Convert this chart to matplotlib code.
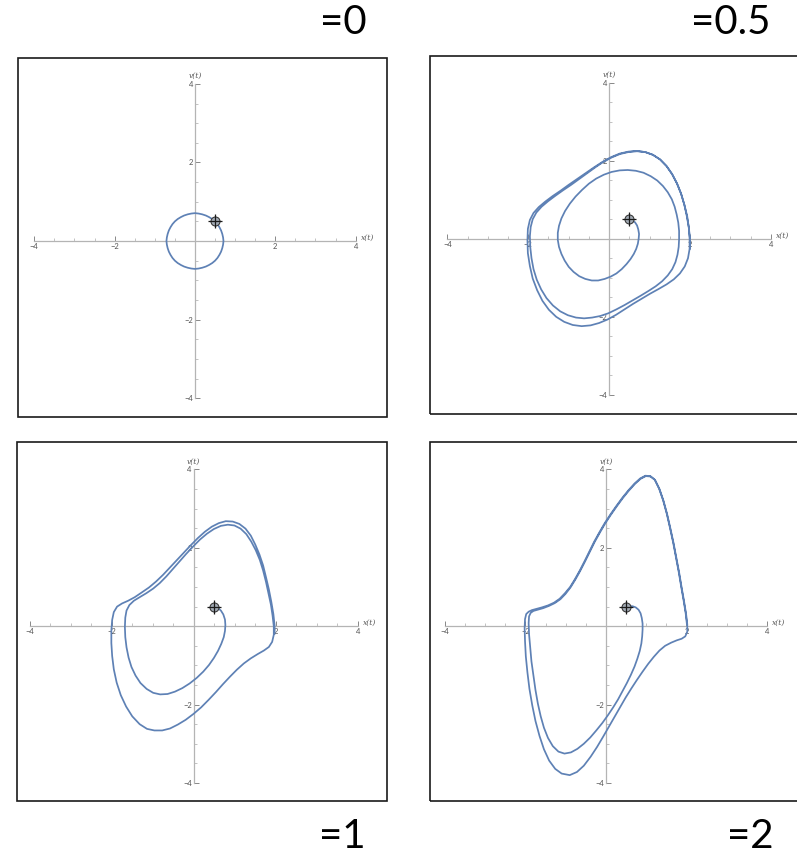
"""Van der Pol phase portraits v(t) vs x(t) for four damping values."""
import matplotlib
matplotlib.use("Agg")
import matplotlib.pyplot as plt
import numpy as np
from matplotlib.patches import Rectangle

plt.rcParams.update({
    "font.family": ["Lato", "DejaVu Sans"],
    "axes.unicode_minus": True,
})

# ── data ──────────────────────────────────────────────────────────────────────
MU_LABELS = ["=0", "=0.5", "=1", "=2"]
START = (0.5, 0.5)

MAJOR_TICKS = [-4, -2, 2, 4]
MINOR_TICKS = [-3.5, -3, -2.5, -1.5, -1, -0.5, 0.5, 1, 1.5, 2.5, 3, 3.5]
TICK_LABELS = ["\u22124", "\u22122", "2", "4"]

TRAJ_MU0 = [
    (0.50, 0.50), (0.56, 0.43), (0.61, 0.35), (0.65, 0.27), (0.68, 0.18),
    (0.70, 0.09), (0.71, 0.00), (0.70, -0.09), (0.68, -0.18), (0.65, -0.27),
    (0.61, -0.35), (0.56, -0.43), (0.50, -0.50), (0.43, -0.56), (0.35, -0.61),
    (0.27, -0.65), (0.18, -0.68), (0.09, -0.70), (0.00, -0.71), (-0.09, -0.70),
    (-0.18, -0.68), (-0.27, -0.65), (-0.35, -0.61), (-0.43, -0.56), (-0.50, -0.50),
    (-0.56, -0.43), (-0.61, -0.35), (-0.65, -0.27), (-0.68, -0.18), (-0.70, -0.09),
    (-0.71, 0.00), (-0.70, 0.09), (-0.68, 0.18), (-0.65, 0.27), (-0.61, 0.35),
    (-0.56, 0.43), (-0.50, 0.50), (-0.43, 0.56), (-0.35, 0.61), (-0.27, 0.65),
    (-0.18, 0.68), (-0.09, 0.70), (0.00, 0.71), (0.09, 0.70), (0.18, 0.68),
    (0.27, 0.65), (0.35, 0.61), (0.43, 0.56), (0.50, 0.50),
]

TRAJ_MU05 = [
    (0.50, 0.50), (0.57, 0.47), (0.64, 0.42), (0.69, 0.34), (0.72, 0.24),
    (0.74, 0.12), (0.73, 0.00), (0.71, -0.13), (0.67, -0.26), (0.61, -0.39),
    (0.53, -0.52), (0.43, -0.65), (0.31, -0.78), (0.18, -0.89), (0.04, -0.97),
    (-0.11, -1.03), (-0.27, -1.07), (-0.43, -1.07), (-0.59, -1.03), (-0.74, -0.96),
    (-0.88, -0.85), (-1.00, -0.72), (-1.10, -0.56), (-1.18, -0.39), (-1.24, -0.21),
    (-1.27, -0.03), (-1.27, 0.15), (-1.24, 0.33), (-1.18, 0.52), (-1.09, 0.71),
    (-0.97, 0.90), (-0.83, 1.08), (-0.67, 1.25), (-0.50, 1.41), (-0.32, 1.54),
    (-0.13, 1.64), (0.06, 1.71), (0.26, 1.75), (0.46, 1.76), (0.66, 1.74),
    (0.85, 1.69), (1.03, 1.60), (1.19, 1.49), (1.33, 1.35), (1.45, 1.19),
    (1.55, 1.01), (1.62, 0.82), (1.67, 0.62), (1.71, 0.41), (1.73, 0.20),
    (1.73, -0.01), (1.72, -0.21), (1.69, -0.41), (1.64, -0.60), (1.56, -0.78),
    (1.45, -0.94), (1.31, -1.09), (1.15, -1.22), (0.97, -1.34), (0.78, -1.46),
    (0.58, -1.58), (0.38, -1.70), (0.18, -1.81), (-0.02, -1.91), (-0.22, -1.98),
    (-0.42, -2.02), (-0.62, -2.04), (-0.82, -2.02), (-1.02, -1.96), (-1.21, -1.86),
    (-1.39, -1.71), (-1.55, -1.52), (-1.68, -1.30), (-1.79, -1.05), (-1.87, -0.78),
    (-1.92, -0.50), (-1.95, -0.22), (-1.96, 0.06), (-1.94, 0.30), (-1.89, 0.50),
    (-1.80, 0.67), (-1.67, 0.82), (-1.51, 0.96), (-1.33, 1.10), (-1.14, 1.24),
    (-0.94, 1.38), (-0.74, 1.53), (-0.54, 1.68), (-0.34, 1.83), (-0.14, 1.97),
    (0.06, 2.08), (0.27, 2.17), (0.48, 2.22), (0.69, 2.24), (0.89, 2.22),
    (1.08, 2.15), (1.26, 2.03), (1.42, 1.86), (1.56, 1.65), (1.68, 1.41),
    (1.78, 1.15), (1.86, 0.87), (1.92, 0.58), (1.97, 0.29), (1.99, 0.00),
    (1.99, -0.26), (1.95, -0.50), (1.87, -0.71), (1.75, -0.89), (1.60, -1.04),
    (1.42, -1.17), (1.22, -1.29), (1.01, -1.41), (0.80, -1.54), (0.59, -1.67),
    (0.38, -1.81), (0.17, -1.95), (-0.04, -2.07), (-0.25, -2.16), (-0.46, -2.22),
    (-0.68, -2.24), (-0.90, -2.21), (-1.11, -2.13), (-1.31, -2.00), (-1.49, -1.82),
    (-1.65, -1.59), (-1.78, -1.32), (-1.89, -1.02), (-1.96, -0.70), (-2.01, -0.37),
    (-2.02, -0.04), (-2.01, 0.25), (-1.96, 0.48), (-1.87, 0.66), (-1.74, 0.81),
    (-1.58, 0.95), (-1.40, 1.09), (-1.20, 1.23), (-1.00, 1.38), (-0.79, 1.53),
    (-0.58, 1.68), (-0.37, 1.83), (-0.16, 1.97), (0.05, 2.09), (0.26, 2.18),
    (0.47, 2.23), (0.68, 2.25), (0.89, 2.22), (1.08, 2.15), (1.26, 2.03),
    (1.42, 1.86), (1.56, 1.65), (1.68, 1.41), (1.78, 1.15), (1.86, 0.87),
    (1.93, 0.58), (1.97, 0.29), (2.00, 0.00), (2.00, -0.26),
]

TRAJ_MU1 = [
    (0.50, 0.50), (0.58, 0.47), (0.66, 0.40), (0.72, 0.30), (0.76, 0.17),
    (0.77, 0.03), (0.76, -0.12), (0.73, -0.28), (0.67, -0.45), (0.59, -0.63),
    (0.49, -0.81), (0.37, -0.99), (0.23, -1.16), (0.07, -1.32), (-0.10, -1.46),
    (-0.28, -1.58), (-0.46, -1.67), (-0.64, -1.73), (-0.82, -1.74), (-0.99, -1.70),
    (-1.15, -1.60), (-1.30, -1.45), (-1.42, -1.26), (-1.52, -1.04), (-1.59, -0.80),
    (-1.64, -0.54), (-1.67, -0.28), (-1.68, -0.02), (-1.67, 0.22), (-1.64, 0.40),
    (-1.57, 0.54), (-1.46, 0.65), (-1.32, 0.74), (-1.16, 0.84), (-0.99, 0.96),
    (-0.83, 1.10), (-0.67, 1.27), (-0.51, 1.46), (-0.35, 1.65), (-0.19, 1.84),
    (-0.02, 2.03), (0.15, 2.21), (0.32, 2.36), (0.49, 2.48), (0.66, 2.56),
    (0.83, 2.59), (0.99, 2.57), (1.14, 2.49), (1.28, 2.35), (1.40, 2.16),
    (1.51, 1.94), (1.61, 1.69), (1.69, 1.42), (1.76, 1.13), (1.82, 0.84),
    (1.88, 0.55), (1.92, 0.27), (1.95, 0.00), (1.95, -0.22), (1.91, -0.40),
    (1.83, -0.53), (1.71, -0.62), (1.56, -0.71), (1.39, -0.82), (1.22, -0.95),
    (1.05, -1.11), (0.88, -1.29), (0.71, -1.48), (0.54, -1.68), (0.36, -1.88),
    (0.18, -2.07), (-0.01, -2.24), (-0.20, -2.39), (-0.39, -2.51), (-0.58, -2.61),
    (-0.77, -2.66), (-0.96, -2.66), (-1.14, -2.62), (-1.32, -2.50), (-1.50, -2.30),
    (-1.65, -2.05), (-1.78, -1.76), (-1.88, -1.44), (-1.95, -1.10), (-1.99, -0.76),
    (-2.01, -0.43), (-2.01, -0.12), (-1.99, 0.16), (-1.95, 0.36), (-1.87, 0.50),
    (-1.75, 0.58), (-1.60, 0.65), (-1.44, 0.74), (-1.27, 0.86), (-1.09, 0.99),
    (-0.92, 1.14), (-0.75, 1.31), (-0.58, 1.50), (-0.41, 1.69), (-0.24, 1.88),
    (-0.07, 2.07), (0.10, 2.25), (0.27, 2.41), (0.44, 2.54), (0.61, 2.63),
    (0.78, 2.68), (0.95, 2.67), (1.11, 2.61), (1.26, 2.49), (1.39, 2.31),
    (1.50, 2.08), (1.60, 1.83), (1.69, 1.55), (1.76, 1.25), (1.83, 0.94),
    (1.89, 0.62), (1.94, 0.31), (1.97, 0.02), (1.97, -0.20),
]

TRAJ_MU2 = [
    (0.50, 0.50), (0.58, 0.51), (0.66, 0.51), (0.74, 0.48), (0.81, 0.42),
    (0.86, 0.33), (0.89, 0.21), (0.91, 0.07), (0.91, -0.09), (0.90, -0.26),
    (0.88, -0.44), (0.84, -0.63), (0.78, -0.83), (0.71, -1.03), (0.62, -1.24),
    (0.52, -1.45), (0.41, -1.66), (0.30, -1.87), (0.18, -2.07), (0.05, -2.27),
    (-0.09, -2.47), (-0.24, -2.66), (-0.39, -2.84), (-0.55, -3.00), (-0.71, -3.13),
    (-0.87, -3.22), (-1.03, -3.25), (-1.18, -3.20), (-1.32, -3.06), (-1.44, -2.85),
    (-1.54, -2.59), (-1.62, -2.30), (-1.69, -1.98), (-1.75, -1.63), (-1.80, -1.27),
    (-1.85, -0.90), (-1.88, -0.54), (-1.91, -0.20), (-1.92, 0.08), (-1.91, 0.25),
    (-1.87, 0.34), (-1.80, 0.39), (-1.70, 0.42), (-1.56, 0.46), (-1.41, 0.52),
    (-1.27, 0.59), (-1.13, 0.69), (-1.00, 0.83), (-0.88, 0.99), (-0.76, 1.19),
    (-0.64, 1.41), (-0.52, 1.65), (-0.40, 1.90), (-0.28, 2.15), (-0.15, 2.39),
    (-0.02, 2.62), (0.12, 2.84), (0.27, 3.06), (0.42, 3.27), (0.57, 3.46),
    (0.72, 3.63), (0.86, 3.76), (0.99, 3.83), (1.11, 3.82), (1.22, 3.73),
    (1.33, 3.50), (1.43, 3.20), (1.52, 2.86), (1.60, 2.50), (1.68, 2.12),
    (1.75, 1.74), (1.82, 1.36), (1.88, 0.99), (1.94, 0.64), (1.99, 0.32),
    (2.02, 0.05), (2.02, -0.14), (1.97, -0.26), (1.88, -0.32), (1.76, -0.36),
    (1.62, -0.42), (1.47, -0.50), (1.33, -0.62), (1.19, -0.78), (1.05, -0.96),
    (0.91, -1.16), (0.77, -1.37), (0.63, -1.59), (0.49, -1.82), (0.35, -2.07),
    (0.21, -2.32), (0.07, -2.57), (-0.07, -2.82), (-0.22, -3.08), (-0.38, -3.33),
    (-0.55, -3.56), (-0.72, -3.72), (-0.90, -3.80), (-1.10, -3.76), (-1.26, -3.64),
    (-1.41, -3.43), (-1.54, -3.14), (-1.65, -2.80), (-1.75, -2.42), (-1.83, -2.02),
    (-1.90, -1.60), (-1.95, -1.18), (-1.99, -0.77), (-2.01, -0.38), (-2.02, -0.05),
    (-2.01, 0.18), (-1.98, 0.31), (-1.92, 0.37), (-1.84, 0.41), (-1.73, 0.44),
    (-1.59, 0.48), (-1.44, 0.53), (-1.29, 0.60), (-1.15, 0.70), (-1.02, 0.84),
    (-0.89, 1.00), (-0.77, 1.20), (-0.65, 1.42), (-0.53, 1.66), (-0.41, 1.91),
    (-0.29, 2.16), (-0.16, 2.40), (-0.03, 2.63), (0.11, 2.85), (0.26, 3.07),
    (0.41, 3.28), (0.56, 3.47), (0.71, 3.64), (0.85, 3.77), (0.98, 3.84),
    (1.10, 3.83), (1.21, 3.74), (1.32, 3.51), (1.42, 3.21), (1.51, 2.87),
    (1.59, 2.51), (1.67, 2.13), (1.74, 1.75), (1.81, 1.37), (1.87, 1.00),
    (1.93, 0.65), (1.98, 0.33), (2.01, 0.06),
]

TRAJS = [TRAJ_MU0, TRAJ_MU05, TRAJ_MU1, TRAJ_MU2]

# ── layout (pixels) ───────────────────────────────────────────────────────────
W, H = 797, 858
LINE_BLUE = "#5e81b5"
AXIS_GREY = "#b4b4b4"
TEXT_GREY = "#555555"

# frame (left, top, right, bottom) in px and the data limits that fit it
PANELS = [
    ((18, 58, 387, 417), (-4.405, 4.78), (-4.48, 4.66)),
    ((430, 56, 800, 414), (-4.43, 4.72), (-4.49, 4.68)),
    ((17, 442, 387, 801), (-4.31, 4.71), (-4.46, 4.70)),
    ((430, 442, 800, 801), (-4.37, 4.82), (-4.46, 4.70)),
]
TITLE_POS = [(343, 22), (731, 22), (342, 836), (750, 836)]

fig = plt.figure(figsize=(W / 100, H / 100), dpi=100)


def phase_axes(frame, xlim, ylim):
    l, t, r, b = frame
    ax = fig.add_axes([l / W, 1 - b / H, (r - l) / W, (b - t) / H])
    ax.set_xlim(*xlim)
    ax.set_ylim(*ylim)
    ax.patch.set_alpha(0)

    for side in ("top", "right"):
        ax.spines[side].set_visible(False)
    for side in ("left", "bottom"):
        sp = ax.spines[side]
        sp.set_position(("data", 0))
        sp.set_bounds(-4, 4)
        sp.set_color(AXIS_GREY)
        sp.set_linewidth(0.9)

    ax.set_xticks(MAJOR_TICKS)
    ax.set_yticks(MAJOR_TICKS)
    ax.set_xticks(MINOR_TICKS, minor=True)
    ax.set_yticks(MINOR_TICKS, minor=True)
    ax.set_xticklabels(TICK_LABELS)
    ax.set_yticklabels(TICK_LABELS)
    ax.tick_params(which="major", direction="in", length=3.5, width=0.7,
                   color="#888888", labelsize=5.5, labelcolor=TEXT_GREY, pad=1.5)
    ax.tick_params(which="minor", direction="in", length=2, width=0.5,
                   color="#aaaaaa")

    ax.text(4.12, 0.08, "x(t)", fontsize=5.5, color=TEXT_GREY, style="italic",
            ha="left", va="center", family="DejaVu Serif")
    ax.text(0, 4.2, "v(t)", fontsize=5.5, color=TEXT_GREY, style="italic",
            ha="center", va="center", family="DejaVu Serif")

    # panel border
    ax.add_patch(Rectangle((0, 0), 1, 1, transform=ax.transAxes, fill=False,
                           ec="#1a1a1a", lw=1.2, clip_on=False))
    return ax


for (frame, xlim, ylim), traj, label, (tx, ty) in zip(PANELS, TRAJS, MU_LABELS, TITLE_POS):
    ax = phase_axes(frame, xlim, ylim)
    pts = np.array(traj)
    ax.plot(pts[:, 0], pts[:, 1], color=LINE_BLUE, lw=1.25,
            solid_joinstyle="round", solid_capstyle="round", zorder=3)
    # initial condition marker
    ax.plot(*START, marker="o", ms=6.5, mfc="#a3abb5", mec="#3a3a3a", mew=0.8,
            zorder=5)
    ax.plot(*START, marker="+", ms=10, mew=0.9, color="#1a1a1a", zorder=6)

    fig.text(tx / W, 1 - ty / H, label, fontsize=29, ha="center", va="center",
             color="black")

fig.savefig("out.png", dpi=100)
